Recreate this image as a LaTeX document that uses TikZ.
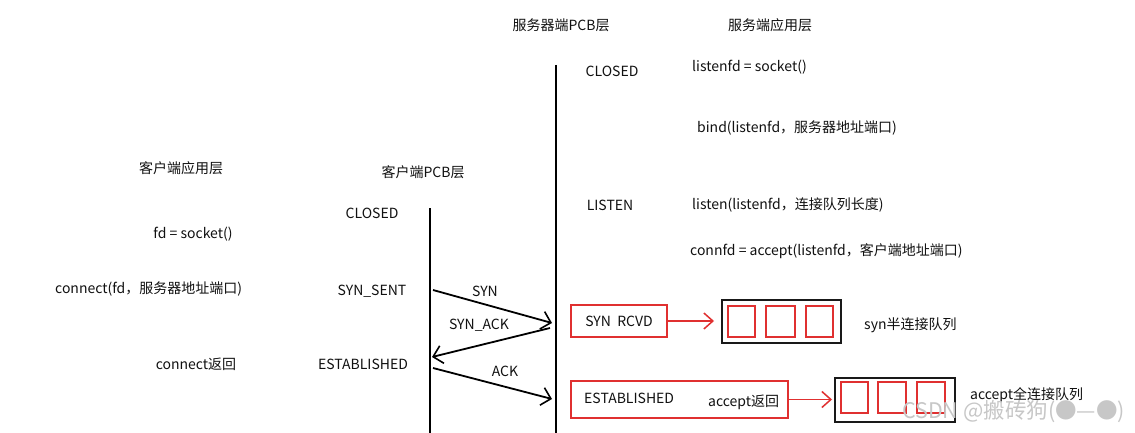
\documentclass[tikz,border=0pt]{standalone}
\usepackage{fontspec}
\setmainfont{Noto Sans CJK SC}
\usetikzlibrary{arrows.meta}
\definecolor{redbox}{HTML}{E03030}
\definecolor{txt}{HTML}{111111}
\begin{document}
\begin{tikzpicture}[x=1pt,y=-1pt,
  lbl/.style={font=\fontsize{14}{16}\selectfont, text=txt, inner sep=0pt},
  lleft/.style={lbl, anchor=west},
  axis/.style={line width=2.2pt, black},
  msg/.style={line width=1.8pt, -{Straight Barb[length=9pt,width=18pt,line width=1.6pt]}},
  rbox/.style={draw=redbox, line width=1.6pt},
  qbox/.style={draw=black!90, line width=2pt},
  rarrow/.style={draw=redbox, line width=1.6pt, -{Straight Barb[length=9pt,width=16pt,line width=1.5pt]}}
]
\useasboundingbox (0,0) rectangle (1135,433);
\fill[white] (0,0) rectangle (1135,433);

% titles
\node[lbl] (spcb) at (561,25) {服务器端PCB层};
\node[lbl] (sapp) at (770,25) {服务端应用层};
\node[lbl] (capp) at (181,168) {客户端应用层};
\node[lbl] (cpcb) at (423,172) {客户端PCB层};

% timelines
\coordinate (stop) at (556,65);
\coordinate (sbot) at (556,433);
\coordinate (ctop) at (430,208);
\coordinate (cbot) at (430,433);
\draw[axis] (stop) -- (sbot);
\draw[axis] (ctop) -- (cbot);

% server texts
\node[lbl] (sclosed) at (612,71) {CLOSED};
\node[lleft] (sock) at (692,67) {listenfd = socket()};
\node[lleft] (bind) at (697,128) {bind(listenfd，服务器地址端口)};
\node[lbl] (slisten) at (610,205) {LISTEN};
\node[lleft] (listen) at (692,205) {listen(listenfd，连接队列长度)};
\node[lleft] (accept) at (690,251) {connfd = accept(listenfd，客户端地址端口)};

% client texts
\node[lbl] (cclosed) at (372,213) {CLOSED};
\node[lbl] (fdsock) at (193,234) {fd = socket()};
\node[lleft] (connect) at (55,289) {connect(fd，服务器地址端口)};
\node[lbl] (synsent) at (372,291) {SYN\_SENT};
\node[lbl] (connret) at (196,364) {connect返回};
\node[lbl] (cest) at (363,364) {ESTABLISHED};

% messages
\coordinate (a1) at (433,290);
\coordinate (b1) at (552,323);
\coordinate (a2) at (550,328);
\coordinate (b2) at (432,357);
\coordinate (a3) at (433,368);
\coordinate (b3) at (552,399);
\draw[msg] (a1) -- (b1);
\draw[msg] (a2) -- (b2);
\draw[msg] (a3) -- (b3);
\node[lbl] (syn) at (485,291) {SYN};
\node[lbl] (synack) at (479,325) {SYN\_ACK};
\node[lbl] (ack) at (505,371) {ACK};

% SYN_RCVD box
\node[rbox, minimum width=96pt, minimum height=32pt, inner sep=0pt] (rcvd) at (619,321) {};
\node[lbl] (rcvdt) at (619,321) {SYN\ \ RCVD};
\node[qbox, minimum width=119pt, minimum height=43pt, inner sep=0pt] (q1) at (781.5,321) {};
\draw[rbox] (728,306) rectangle (755,337);
\draw[rbox] (766,306) rectangle (795,337);
\draw[rbox] (806,306) rectangle (833,337);
\draw[rarrow] (rcvd.east) -- ([xshift=-7pt]q1.west);
\node[lleft] (synq) at (864,325) {syn半连接队列};

% ESTABLISHED box
\node[rbox, minimum width=217pt, minimum height=37pt, inner sep=0pt] (sest) at (679.5,399.5) {};
\node[lleft] (sestt) at (584,398) {ESTABLISHED};
\node[lleft] (accret) at (708,402) {accept返回};
\node[qbox, minimum width=120pt, minimum height=44pt, inner sep=0pt] (q2) at (895,399.5) {};
\draw[rbox] (841,382) rectangle (868,413);
\draw[rbox] (878,382) rectangle (906,413);
\draw[rbox] (917,382) rectangle (945,413);
\draw[rarrow] (sest.east) -- ([xshift=-2pt]q2.west);
\node[lleft] (accq) at (970,395) {accept全连接队列};

% watermark
\node[lleft, text=black!22, font=\fontsize{21.5}{23}\selectfont] (wm) at (902,412) {CSDN @搬砖狗(●—●)};
\end{tikzpicture}
\end{document}
